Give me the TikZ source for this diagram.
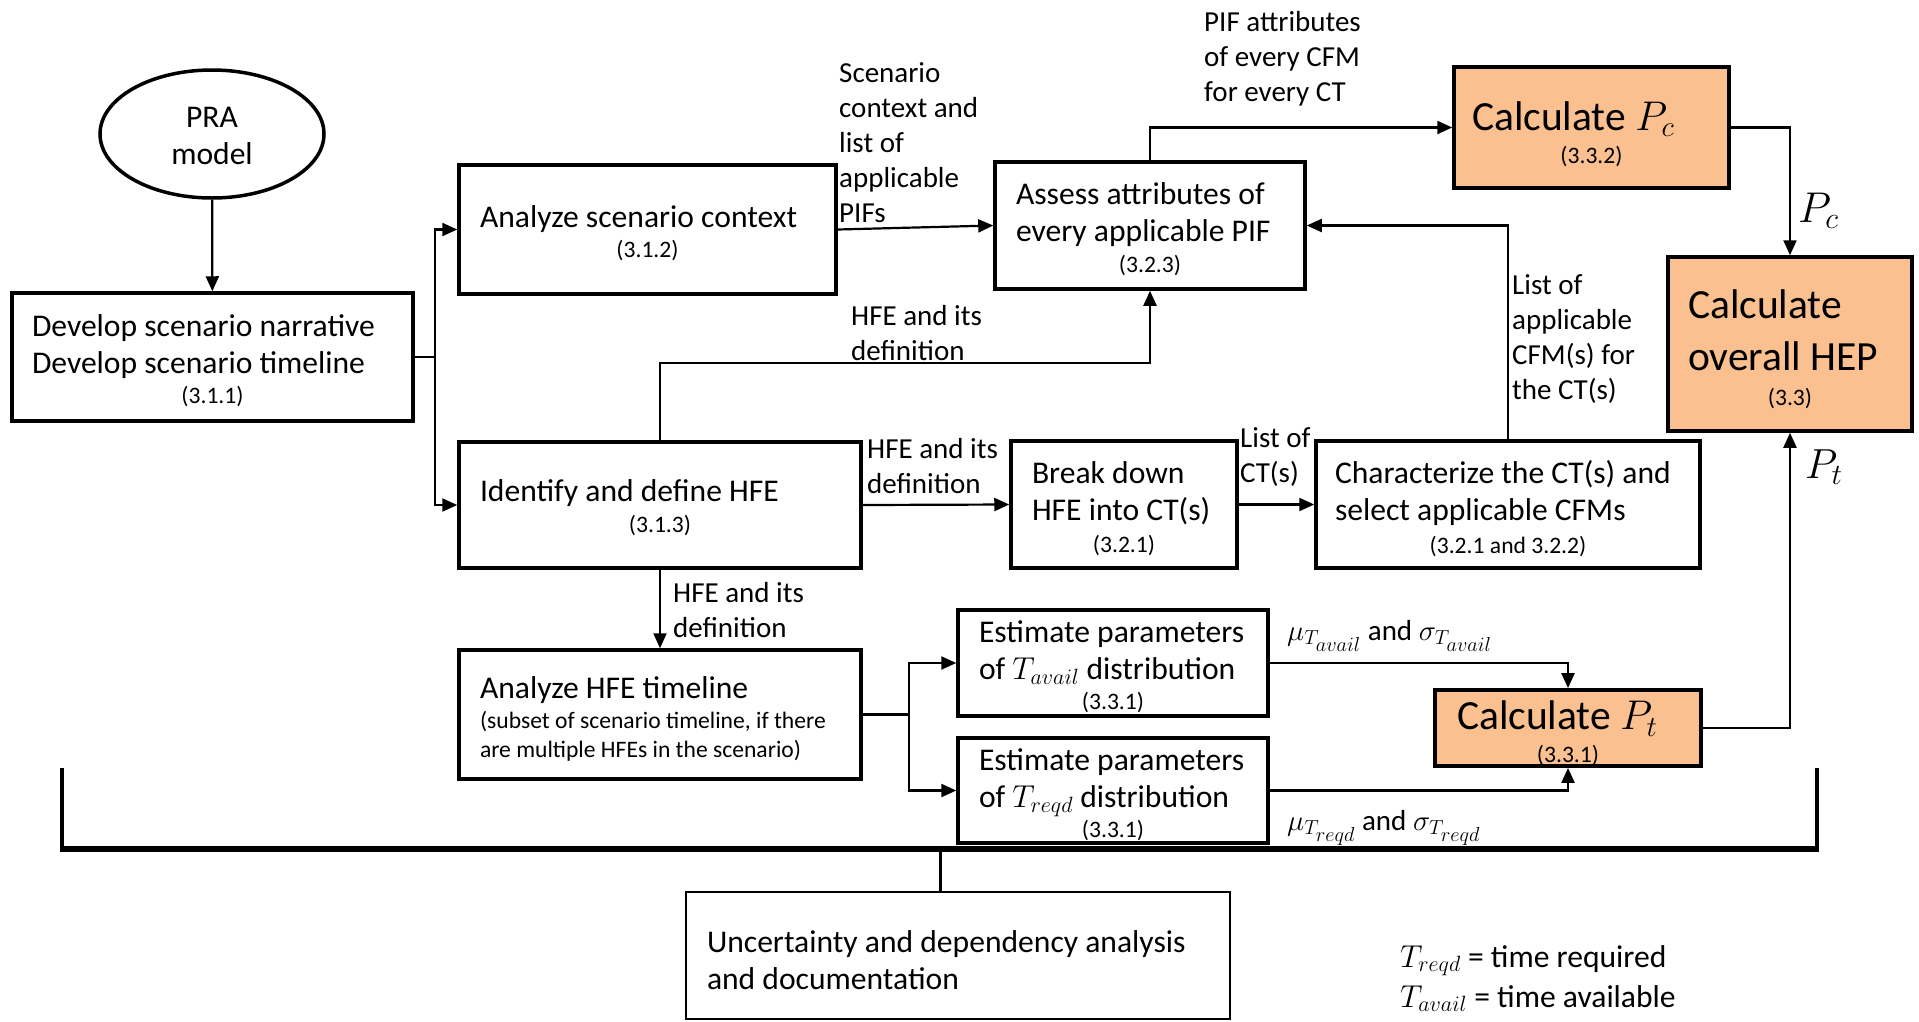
\documentclass[tikz,border=0pt]{standalone}
\usepackage{fix-cm}
\usepackage{fontspec}
\setmainfont{Carlito}
\usetikzlibrary{arrows.meta,shapes.geometric}

\definecolor{calcfill}{HTML}{FAC090}

% type sizes (1pt of the picture is one pixel of the output)
\newcommand{\bodysize}{\fontsize{31.6}{37}\selectfont}
\newcommand{\bigsize}{\fontsize{41.5}{52}\selectfont}
\newcommand{\labsize}{\fontsize{29}{35}\selectfont}
\newcommand{\notesize}{\fontsize{23.6}{29.5}\selectfont}
% centred section number as the last line of a box
\newcommand{\secref}[2][31]{\par{\centering\fontsize{23.6}{#1}\selectfont #2\par}}

\tikzset{
  box/.style={draw, line width=3.5pt, rectangle, inner sep=0pt,
              align=flush left, font=\bodysize, text height=31pt},
  calcbox/.style={box, fill=calcfill, font=\bigsize},
  conn/.style={line width=2.2pt},
  arr/.style={conn, -{Triangle[length=15pt,width=13pt]}},
  lab/.style={inner sep=0pt, anchor=base west, align=flush left, font=\labsize,
              text width=170pt},
}

\begin{document}
\begin{tikzpicture}[x=1pt,y=-1pt]
\useasboundingbox (0,0) rectangle (1919,1021);

% ---------- boxes ----------
\node[draw, ellipse, line width=3.5pt, minimum width=224pt, minimum height=128pt,
      inner sep=0pt, align=flush center, font=\bodysize, text width=150pt, text height=25pt] (pra) at (212,134) {PRA\\model};

\node[box, minimum width=401pt, minimum height=128pt, text width=361pt, text height=30pt] (dev) at (212.5,357)
  {\mbox{Develop scenario narrative}\\\mbox{Develop scenario timeline}\secref[30]{(3.1.1)}};

\node[box, minimum width=377pt, minimum height=129pt, text width=335pt, text height=29pt] (asc) at (647.5,229.5)
  {\mbox{Analyze scenario context}\secref[30]{(3.1.2)}};

\node[box, minimum width=402pt, minimum height=126pt, text width=360pt, text height=28pt] (idf) at (660,505)
  {\mbox{Identify and define HFE}\secref{(3.1.3)}};

\node[box, minimum width=402pt, minimum height=129pt, text width=360pt] (hfe) at (660,714.5)
  {\mbox{Analyze HFE timeline}\par
   {\notesize\mbox{(subset of scenario timeline, if there}\\\mbox{are multiple HFEs in the scenario)}\par}};

\node[box, minimum width=310pt, minimum height=127pt, text width=268pt, text height=29.5pt] (ass) at (1150,225.5)
  {\mbox{Assess attributes of}\\\mbox{every applicable PIF}\secref{(3.2.3)}};

\node[box, minimum width=226pt, minimum height=127pt, text width=184pt, text height=30pt] (brk) at (1124,504.5)
  {\mbox{Break down}\\\mbox{HFE into CT(s)}\secref[32]{(3.2.1)}};

\node[box, minimum width=384pt, minimum height=127pt, text width=346pt] (chr) at (1508,504.5)
  {\mbox{Characterize the CT(s) and}\\\mbox{select applicable CFMs}\secref[33]{(3.2.1 and 3.2.2)}};

\node[box, minimum width=310pt, minimum height=106pt, text width=268pt, text height=29.5pt] (eav) at (1113,663)
  {\mbox{Estimate parameters}\\\mbox{of $T_{avail}$ distribution}\secref[30]{(3.3.1)}};

\node[box, minimum width=310pt, minimum height=105pt, text width=268pt] (erq) at (1113,790.5)
  {\mbox{Estimate parameters}\\\mbox{of $T_{reqd}$ distribution}\secref[30]{(3.3.1)}};

\node[calcbox, minimum width=275pt, minimum height=121pt, text width=239pt, text height=42pt] (pc) at (1591.5,127.5)
  {\mbox{Calculate $P_c$}\secref[33]{(3.3.2)}};

\node[calcbox, minimum width=244pt, minimum height=174pt, text width=204pt, text height=39pt] (hep) at (1790,344)
  {\mbox{Calculate}\\\mbox{overall HEP}\secref[35]{(3.3)}};

\node[calcbox, minimum width=266pt, minimum height=76pt, text width=222pt, text height=40pt] (pt) at (1568,728)
  {\mbox{Calculate $P_t$}\secref[33]{(3.3.1)}};

\node[box, line width=2.5pt, minimum width=544pt, minimum height=127pt, text width=502pt] (unc) at (958,955.5)
  {\mbox{Uncertainty and dependency analysis}\\\mbox{and documentation}};

% ---------- connector labels ----------
\node[lab] (lscn) at (839,82) {Scenario\\context and\\list of\\applicable\\PIFs};
\node[lab] (lpif) at (1204,31) {PIF attributes\\of every CFM\\for every CT};
\node[lab] (lhfa) at (851,325) {HFE and its\\definition};
\node[lab] (lhfb) at (867,458) {HFE and its\\definition};
\node[lab] (lhfc) at (673,602) {HFE and its\\definition};
\node[lab] (lct)  at (1240,447) {List of\\CT(s)};
\node[lab] (lcfm) at (1512,294) {List of\\applicable\\CFM(s) for\\the CT(s)};
\node[inner sep=0pt, anchor=base west, font=\fontsize{43}{43}\selectfont] (lpc) at (1798,222) {$P_c$};
\node[inner sep=0pt, anchor=base west, font=\fontsize{42}{42}\selectfont] (lpt) at (1805,478) {$P_t$};
\node[lab, text width=300pt] (lmav) at (1287,640) {$\mu_{T_{\scriptstyle avail}}$ and $\sigma_{T_{\scriptstyle avail}}$};
\node[lab, text width=300pt] (lmrq) at (1287,830) {$\mu_{T_{\scriptstyle reqd}}$ and $\sigma_{T_{\scriptstyle reqd}}$};

% legend
\node[lab, text width=300pt, font=\fontsize{31.6}{40}\selectfont] (legend) at (1400,967)
  {$T_{reqd}$ = time required\\$T_{avail}$ = time available};

% ---------- connectors ----------
\draw[arr] (pra) -- (dev);

\coordinate (br1) at (435,357);
\draw[conn] (dev.east) -- (br1);
\draw[arr] (br1) |- (asc.west);
\draw[arr] (br1) |- (idf.west);

\draw[arr] (asc.east) -- (ass.west);
\draw[arr] (idf.north) -- ++(0,-77) -| (ass.south);
\draw[arr] (idf.east) -- (brk.west);
\draw[arr] (brk.east) -- (chr.west);
\draw[arr] (chr.north) |- (ass.east);
\draw[arr] (ass.north) |- (pc.west);
\draw[arr] (pc.east) -| (hep.north);
\draw[arr] (pt.east) -| (hep.south);

\draw[arr] (idf.south) -- (hfe.north);
\coordinate (br2) at (909,714.5);
\draw[conn] (hfe.east) -- (br2);
\draw[arr] (br2) |- (eav.west);
\draw[arr] (br2) |- (erq.west);
\draw[arr] (eav.east) -| (pt.north);
\draw[arr] (erq.east) -| (pt.south);

% ---------- bracket gathering all steps ----------
\coordinate (bkl) at (62,768);
\coordinate (bkr) at (1817,768);
\coordinate (bk) at (940,849);
\draw[line width=4pt] (bkl) -- (62,851);
\draw[line width=4pt] (bkr) -- (1817,851);
\draw[line width=5.5pt] (60,849) -- (1819,849);
\draw[line width=3pt] (bk) -- (bk |- unc.north);

\end{tikzpicture}
\end{document}
